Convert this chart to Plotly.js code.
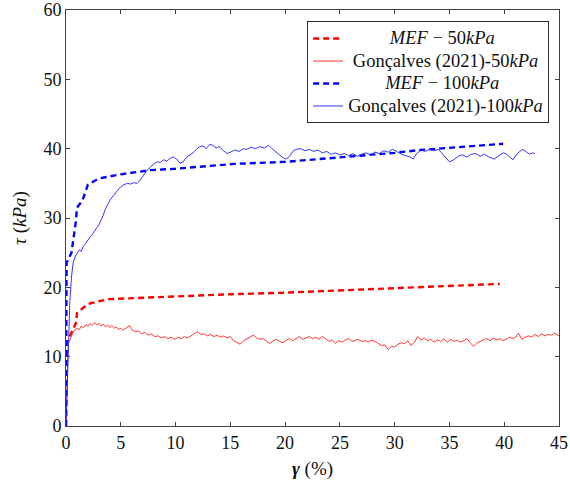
<!DOCTYPE html>
<html>
<head>
<meta charset="utf-8">
<script src="https://cdn.plot.ly/plotly-3.0.1.min.js"></script>
<style>html,body{margin:0;padding:0;background:#fff;}#chart{width:570px;height:481px;}</style>
</head>
<body>
<div id="chart"></div>
<script>
// MEF - 50kPa (dashed red)
const mef50X = [0, 0.1, 0.5, 0.95, 1.0, 1.5, 2.0, 3.0, 4.0, 5.5, 7.0, 9.0, 11.6, 15.0, 19.5, 24.0, 29.6, 35.0, 39.6];
const mef50Y = [0, 12.0, 13.5, 15.0, 16.3, 17.0, 17.6, 18.0, 18.3, 18.4, 18.5, 18.7, 18.8, 19.0, 19.2, 19.5, 19.8, 20.2, 20.5];

// MEF - 100kPa (dashed blue)
const mef100X = [0, 0.05, 0.5, 0.9, 1.0, 1.5, 2.0, 2.5, 3.0, 5.0, 7.7, 10.0, 15.3, 20.0, 25.0, 30.0, 32.3, 35.0, 39.9];
const mef100Y = [0, 23.5, 25.0, 29.5, 31.5, 32.5, 34.8, 35.3, 35.7, 36.3, 36.9, 37.1, 37.8, 38.1, 38.7, 39.4, 39.8, 40.1, 40.7];

// Gonçalves (2021) - 50kPa (solid red)
const gon50X = [0,0.05,0.1,0.15,0.2,0.3,0.45,0.6,0.8,1.0,1.2,1.4,1.6,1.8,2.0,2.2,2.4,2.6,2.8,3.0,3.2,3.4,3.6,3.8,4.0,4.2,4.4,4.6,4.8,5.0,5.2,5.4,5.6,5.8,6.0,6.3,6.6,6.9,7.2,7.5,7.8,8.1,8.4,8.7,9.0,9.3,9.6,9.9,10.2,10.5,10.8,11.1,11.4,11.7,12.0,12.3,12.6,12.9,13.2,13.5,13.8,14.1,14.4,14.7,15.0,15.3,15.6,15.9,16.2,16.5,16.8,17.1,17.4,17.7,18.0,18.3,18.6,18.9,19.2,19.5,19.8,20.1,20.4,20.7,21.0,21.3,21.6,21.9,22.2,22.5,22.8,23.1,23.4,23.7,24.0,24.3,24.6,24.9,25.2,25.5,25.8,26.1,26.4,26.7,27.0,27.3,27.6,27.9,28.2,28.5,28.8,29.1,29.4,29.7,30.0,30.3,30.6,30.9,31.2,31.5,31.8,32.1,32.4,32.7,33.0,33.3,33.6,33.9,34.2,34.5,34.8,35.1,35.4,35.7,36.0,36.3,36.6,36.9,37.2,37.5,37.8,38.1,38.4,38.7,39.0,39.3,39.6,39.9,40.2,40.5,40.8,41.1,41.3,41.6,41.9,42.2,42.5,42.8,43.1,43.4,43.7,44.0,44.3,44.6,45.0];
const gon50Y = [0,4,8,10.5,11.8,12.2,12.8,13.4,13.8,14.1,13.9,14.4,14.2,14.6,14.4,14.8,14.5,14.9,14.6,14.8,14.4,14.7,14.3,14.6,14.2,14.5,14.1,14.3,13.9,14.1,13.8,14.0,14.3,14.5,13.9,13.6,13.7,13.3,13.5,13.1,13.3,12.9,13.0,12.7,12.9,12.6,12.8,12.5,12.8,12.6,12.9,12.7,13.0,13.3,13.6,13.2,13.3,13.0,13.2,12.9,13.1,12.8,13.0,12.7,12.9,12.3,12.1,11.8,12.3,12.6,12.9,13.1,12.7,12.5,12.6,12.2,11.9,12.3,12.5,12.2,12.0,12.4,12.6,12.3,12.6,12.9,12.5,12.7,12.9,12.6,12.8,12.5,12.9,12.6,12.2,12.4,11.9,12.3,12.1,12.4,12.6,12.2,12.4,12.5,12.2,12.3,12.1,12.4,12.2,11.9,11.6,11.7,11.0,11.5,11.4,11.8,12.0,11.9,12.3,11.6,12.1,12.9,12.4,12.7,12.3,12.5,12.1,12.4,12.2,12.6,12.1,12.5,12.2,12.4,12.1,12.3,12.6,12.0,11.5,12.0,12.2,12.4,12.6,12.3,12.7,12.4,12.6,12.3,12.5,12.8,12.6,12.9,13.4,12.5,12.8,13.0,12.8,13.2,12.9,13.3,13.0,13.2,13.1,13.4,13.0];

// Gonçalves (2021) - 100kPa (solid blue)
const gon100X = [0,0.1,0.2,0.35,0.5,0.65,0.8,1.0,1.2,1.4,1.6,1.8,2.0,2.2,2.4,2.6,2.8,3.0,3.2,3.4,3.6,3.8,4.0,4.2,4.4,4.6,4.8,5.0,5.3,5.6,5.9,6.2,6.5,6.8,7.1,7.4,7.7,8.0,8.3,8.6,8.9,9.2,9.5,9.8,10.1,10.4,10.7,11.0,11.3,11.6,11.9,12.2,12.5,12.8,13.1,13.4,13.7,14.0,14.3,14.7,15.0,15.4,15.8,16.2,16.5,16.9,17.3,17.7,18.1,18.5,18.8,19.2,19.5,19.8,20.1,20.4,20.7,21.0,21.4,21.8,22.2,22.6,23.0,23.4,23.8,24.2,24.6,25.0,25.4,25.8,26.2,26.6,27.0,27.4,27.8,28.2,28.6,29.0,29.4,29.8,30.2,30.6,31.0,31.4,31.7,32.0,32.4,32.8,33.2,33.6,34.0,34.4,34.7,35.0,35.4,35.8,36.2,36.6,37.0,37.4,37.8,38.2,38.6,39.1,39.5,39.9,40.2,40.5,40.8,41.1,41.4,41.7,42.0,42.3,42.6,42.8];
const gon100Y = [0,5,12.5,18,21.5,23.5,24.3,24.8,25.4,25.2,26.0,26.3,26.9,27.3,27.6,28.2,28.6,29.0,29.6,30.4,31.3,32.0,32.5,33.0,33.3,33.8,34.1,34.5,34.8,35.0,34.9,35.1,35.0,35.5,36.2,36.9,37.3,37.8,38.1,38.0,38.4,38.2,38.6,38.8,38.5,37.9,38.1,38.8,39.1,39.4,39.9,40.3,40.4,40.0,40.6,40.5,40.1,40.3,39.8,39.3,39.5,39.8,39.6,40.0,39.9,40.2,40.0,40.3,40.1,40.5,40.0,39.5,39.1,38.7,38.5,38.9,39.6,39.9,40.0,39.7,39.9,39.6,39.8,39.4,39.6,39.2,39.4,39.1,39.3,39.0,39.3,38.9,39.2,39.4,39.1,39.5,39.3,39.7,39.5,39.9,39.6,39.2,39.0,38.8,38.5,39.3,39.8,39.6,39.9,39.7,39.9,39.2,38.6,38.1,38.4,38.9,39.1,38.8,39.2,39.3,38.9,39.2,38.8,38.5,39.0,39.4,39.2,38.8,38.4,39.1,39.6,39.9,39.5,39.2,39.4,39.3];

const seriesNames = [
  '<i>MEF</i> − 50<i>kPa</i>',
  'Gonçalves (2021)-50<i>kPa</i>',
  '<i>MEF</i> − 100<i>kPa</i>',
  'Gonçalves (2021)-100<i>kPa</i>'
];
const xTicks = [0,5,10,15,20,25,30,35,40,45];
const yTicks = [0,10,20,30,40,50,60];

const serif = 'Liberation Serif';
const pad = ['\u00a0\u00a0\u00a0\u00a0\u00a0\u00a0\u00a0\u00a0\u00a0', '\u00a0', '\u00a0\u00a0\u00a0\u00a0\u00a0\u00a0\u00a0\u00a0', ''];
const legName = (i) => '<span style="font-size:18.5px">' + pad[i] + seriesNames[i] + '</span>';

const traces = [
  {x: mef50X, y: mef50Y, mode: 'lines', name: legName(0),
   line: {color: '#ff0000', width: 2.4, dash: '6px,4px'}},
  {x: gon50X, y: gon50Y, mode: 'lines', name: legName(1),
   line: {color: '#ff2020', width: 1}, opacity: 0.9},
  {x: mef100X, y: mef100Y, mode: 'lines', name: legName(2),
   line: {color: '#0000ff', width: 2.4, dash: '6px,4px'}},
  {x: gon100X, y: gon100Y, mode: 'lines', name: legName(3),
   line: {color: '#2020ff', width: 1}, opacity: 0.9}
];

const axisCommon = {
  showgrid: false, zeroline: false, showline: true, mirror: 'ticks',
  linecolor: '#404040', linewidth: 1, ticks: 'inside', ticklen: 4,
  tickcolor: '#404040', tickfont: {family: serif, size: 18, color: '#111'}
};

const layout = {
  width: 570, height: 481,
  margin: {l: 66, r: 11, t: 10, b: 55},
  paper_bgcolor: '#fff', plot_bgcolor: '#fff',
  showlegend: true,
  font: {family: serif},
  legend: {x: 0.98, xanchor: 'right', y: 0.973, yanchor: 'top',
    bgcolor: '#fff', bordercolor: '#333', borderwidth: 1,
    font: {family: serif, size: 15, color: '#111'}, tracegroupgap: 0},
  xaxis: Object.assign({}, axisCommon, {range: [0, 45], tickvals: xTicks,
    title: {text: '<b><i>γ</i></b> (%)', font: {family: serif, size: 19, color: '#111'}, standoff: 10}}),
  yaxis: Object.assign({}, axisCommon, {range: [0, 60], tickvals: yTicks,
    title: {text: '<i>τ</i> (<i>kPa</i>)', font: {family: serif, size: 19, color: '#111'}, standoff: 11}})
};

Plotly.newPlot('chart', traces, layout, {staticPlot: true, displayModeBar: false});
</script>
</body>
</html>
